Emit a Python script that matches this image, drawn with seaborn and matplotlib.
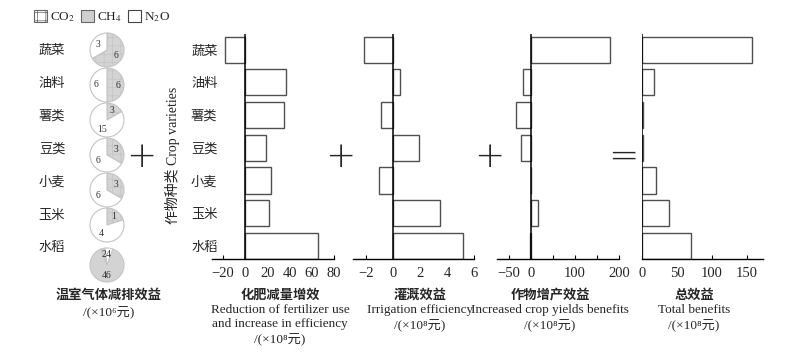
import matplotlib
matplotlib.use("Agg")
import matplotlib.pyplot as plt
import seaborn as sns
import pandas as pd
from matplotlib.patches import Patch

crops = ["蔬菜", "油料", "薯类", "豆类", "小麦", "玉米", "水稻"]
fertilizer = [-18, 37, 35.3, 19, 23.3, 21.1, 65.5]
irrigation = [-2.2, 0.5, -0.9, 1.9, -1.1, 3.5, 5.2]
crop_yield = [179.6, -19, -33, -22, 1, 15, -1.5]
total = [157.7, 16.6, 1.5, 0.8, 19.9, 37.9, 69.6]

# 温室气体减排效益 (×10^6元)
ghg_co2 = [6, 6, 3, 3, 3, 1, 2]
ghg_n2o = [3, 6, 15, 6, 6, 4, 4]
ghg_ch4 = [0, 0, 0, 0, 0, 0, 46]

sns.set_theme(style="white")
FONTS = ["Liberation Serif", "DejaVu Serif", "Noto Sans CJK SC"]
plt.rcParams["font.family"] = FONTS
plt.rcParams["mathtext.fontset"] = "stix"
plt.rcParams["hatch.linewidth"] = 0.5

W, H = 800, 357
fig = plt.figure(figsize=(8, 3.57), dpi=100)


def rect(x0, x1, y0, y1):
    return [x0 / W, 1 - y1 / H, (x1 - x0) / W, (y1 - y0) / H]


def ptext(x, y, s, **kw):
    fig.text(x / W, 1 - y / H, s, **kw)


unit8 = "/(×10⁸元)"
unit6 = "/(×10⁶元)"

# ---- bar panels
panels = [
    (fertilizer, (212, 334), (-30, 80), [-20, 0, 20, 40, 60, 80], None,
     "化肥减量增效", "Reduction of fertilizer use\nand increase in efficiency\n" + unit8, 280),
    (irrigation, (353, 474), (-3, 6), [-2, 0, 2, 4, 6], None,
     "灌溉效益", "Irrigation efficiency\n" + unit8, 420),
    (crop_yield, (497, 619), (-77, 200), [-50, 0, 50, 100, 150, 200],
     ["−50", "0", "", "100", "", "200"],
     "作物增产效益", "Increased crop yields benefits\n" + unit8, 550),
    (total, (642, 763), (0, 173), [0, 50, 100, 150], None,
     "总效益", "Total benefits\n" + unit8, 694),
]

for i, (vals, (x0, x1), xlim, ticks, tlabels, cn, en, lx) in enumerate(panels):
    ax = fig.add_axes(rect(x0, x1, 34, 259))
    df = pd.DataFrame({"crop": crops, "value": vals})
    sns.barplot(data=df, x="value", y="crop", ax=ax, orient="h", color="white",
                edgecolor="#505050", linewidth=1.0, width=0.8, saturation=1)
    ax.axvline(0, color="black", lw=1.1, zorder=5)
    ax.set_xlim(*xlim)
    ax.set_ylim(6.4, -0.48)
    for s in ["top", "right", "left"]:
        ax.spines[s].set_visible(False)
    ax.spines["bottom"].set_color("black")
    ax.spines["bottom"].set_linewidth(1.0)
    ax.set_xticks(ticks)
    if tlabels is None:
        tlabels = [str(t).replace("-", "−") for t in ticks]
    ax.set_xticklabels(tlabels, fontsize=10.5)
    ax.tick_params(axis="x", direction="in", length=3, width=0.8, pad=6,
                   bottom=True, color="black")
    ax.set_xlabel("")
    ax.set_ylabel("")
    if i == 0:
        ax.set_yticks(range(len(crops)))
        ax.set_yticklabels(crops, fontsize=9.5, family=["Noto Sans CJK SC"])
        ax.tick_params(axis="y", length=0, pad=-4)
    else:
        ax.set_yticks([])
    ax.set_facecolor("none")
    ptext(lx, 288, cn, ha="center", va="top", fontsize=9.5,
          family=["Noto Sans CJK SC"], fontweight="bold")
    ptext(lx, 304, en, ha="center", va="top", fontsize=9.5, linespacing=1.25)

# ---- pies
pie_ax = fig.add_axes(rect(80, 140, 25, 290))
pie_rows = [50, 85, 120, 155, 190, 225, 265]
pie_start = [90, 90, 90, 90, 90, 90, 111]
gas_style = [
    dict(facecolor="#d4d4d4", hatch="++", edgecolor="#c4c4c4"),
    dict(facecolor="white", edgecolor="#c4c4c4"),
    dict(facecolor="#d3d3d3", edgecolor="#c4c4c4"),
]
for k in range(len(crops)):
    vals = [ghg_co2[k], ghg_n2o[k], ghg_ch4[k]]
    keep = [j for j in range(3) if vals[j] > 0]
    wedges, texts = pie_ax.pie(
        [vals[j] for j in keep], labels=[str(vals[j]) for j in keep],
        center=(107, H - pie_rows[k]), radius=17, startangle=pie_start[k],
        counterclock=False, labeldistance=0.62,
        textprops=dict(fontsize=7, ha="center", va="center", color="#333333"),
        wedgeprops=dict(linewidth=0.8))
    for w, j in zip(wedges, keep):
        w.set(**gas_style[j])
    if k == 6:
        texts[-1].set_position((107, H - pie_rows[k] - 10))
pie_ax.set_xlim(80, 140)
pie_ax.set_ylim(H - 290, H - 25)
pie_ax.set_aspect("equal")
pie_ax.axis("off")

for k, c in enumerate(crops):
    ptext(52, 50 + 33 * k, c, ha="center", va="center", fontsize=9.5,
          family=["Noto Sans CJK SC"])

ptext(109, 295, "温室气体减排效益", ha="center", va="center", fontsize=9.5,
      family=["Noto Sans CJK SC"], fontweight="bold")
ptext(109, 312, unit6, ha="center", va="center", fontsize=9.5)

handles = [
    Patch(facecolor="white", edgecolor="#666666", hatch="++", linewidth=0.8, label="CO$_2$"),
    Patch(facecolor="#d0d0d0", edgecolor="#666666", linewidth=0.8, label="CH$_4$"),
    Patch(facecolor="white", edgecolor="#444444", linewidth=0.8, label="N$_2$O"),
]
fig.legend(handles=handles, loc="center", bbox_to_anchor=(102 / W, 1 - 17 / H),
           ncol=3, frameon=False, fontsize=9.5, handlelength=1.0, handleheight=1.0,
           handletextpad=0.25, columnspacing=0.4)

ptext(172, 155, "作物种类 Crop varieties", ha="center", va="center", rotation=90,
      fontsize=10)

for x, s in [(141, "+"), (340, "+"), (489, "+"), (623, "=")]:
    ptext(x, 157, s, ha="center", va="center", fontsize=26, family=["DejaVu Sans"],
          fontweight="light")

fig.savefig("out.png", dpi=100)
